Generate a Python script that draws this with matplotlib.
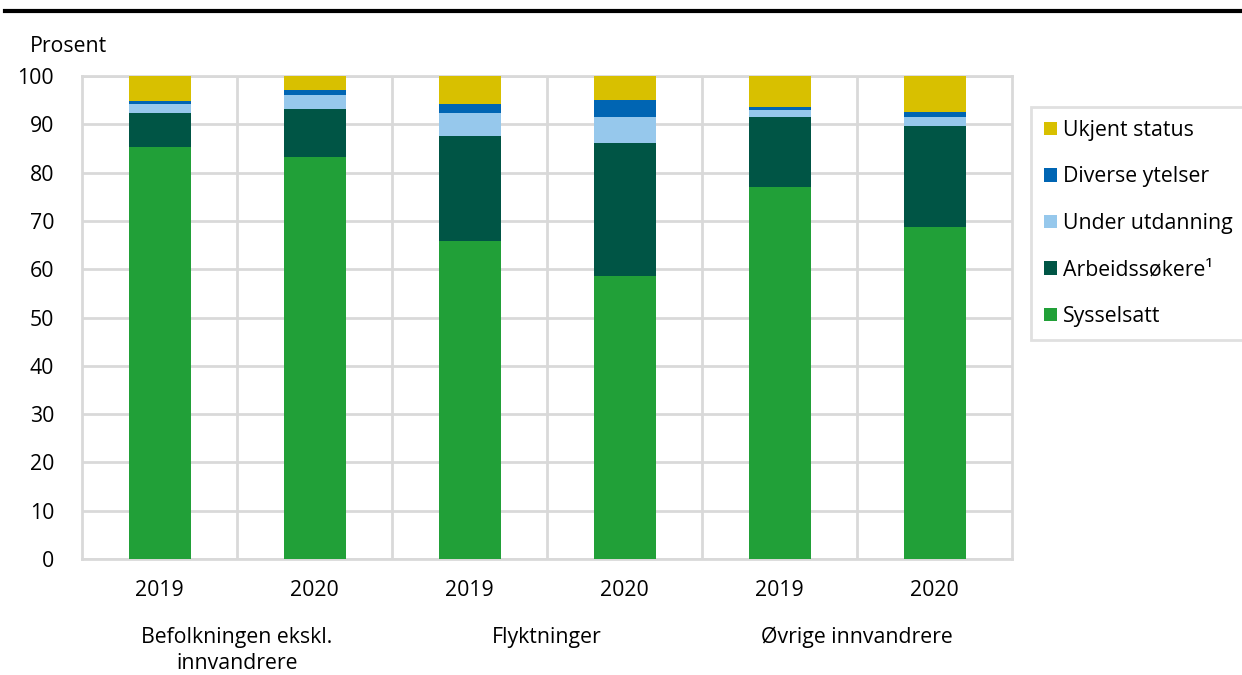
import matplotlib
matplotlib.use("Agg")
import matplotlib.pyplot as plt
from matplotlib.patches import Patch
import numpy as np

plt.rcParams['font.family'] = ['Open Sans', 'DejaVu Sans']

years = ["2019", "2020", "2019", "2020", "2019", "2020"]
groups = ["Befolkningen ekskl.\ninnvandrere", "Flyktninger", "Øvrige innvandrere"]

sysselsatt = [85.3, 83.2, 65.8, 58.6, 77.1, 68.7]
arbeidssokere = [7.0, 9.9, 21.8, 27.5, 14.4, 20.9]
under_utdanning = [2.0, 2.9, 4.7, 5.5, 1.5, 2.0]
diverse_ytelser = [0.6, 1.0, 1.8, 3.5, 0.6, 1.0]
ukjent_status = [5.1, 3.0, 5.9, 4.9, 6.4, 7.4]

series = [
    ("Sysselsatt", sysselsatt, "#21A038"),
    ("Arbeidssøkere¹", arbeidssokere, "#005545"),
    ("Under utdanning", under_utdanning, "#96C8EC"),
    ("Diverse ytelser", diverse_ytelser, "#0065B3"),
    ("Ukjent status", ukjent_status, "#D8C000"),
]

FS = 15.3

fig = plt.figure(figsize=(12.42, 6.75), dpi=100)
ax = fig.add_axes([82/1242, 1-559/675, (1012-82)/1242, (559-76)/675])

x = np.arange(len(years))
bottom = np.zeros(len(years))
for name, vals, col in series:
    ax.bar(x, vals, bottom=bottom, width=0.4, color=col, zorder=3, label=name)
    bottom += np.array(vals)

ax.set_xlim(-0.5, len(years) - 0.5)
ax.set_ylim(0, 100)
ax.set_yticks(range(0, 101, 10))
ax.tick_params(axis='y', length=0, labelsize=FS, pad=20)
ax.set_xticks(x)
ax.set_xticklabels(years)
ax.tick_params(axis='x', length=0, labelsize=FS, pad=15)

grid_col = "#d9d9d9"
ax.grid(axis='y', color=grid_col, linewidth=2, zorder=0)
for b in np.arange(0.5, len(years) - 0.5, 1.0):
    ax.axvline(b, color=grid_col, linewidth=2, zorder=0)
for s in ax.spines.values():
    s.set_color(grid_col)
    s.set_linewidth(2)

# group labels
for i, g in enumerate(groups):
    ax.text(2*i + 0.5, -0.14, g, transform=ax.get_xaxis_transform(),
            ha='center', va='top', fontsize=FS, linespacing=1.35)

fig.text(30/1242, 1-46/675, "Prosent", ha='left', va='center', fontsize=FS)

# top rule
fig.add_artist(plt.Line2D([5/1242, 1.0], [1-11/675, 1-11/675],
                          color='black', linewidth=3, transform=fig.transFigure))

handles = [Patch(facecolor=c, label=n) for n, v, c in series][::-1]
leg = fig.legend(handles=handles, loc='upper left',
                 bbox_to_anchor=(1031/1242, 1-107/675), fontsize=FS,
                 frameon=True, fancybox=False, edgecolor=grid_col,
                 handlelength=0.6, handleheight=0.6, handletextpad=0.3,
                 labelspacing=1.2, borderpad=0.6, borderaxespad=0)
leg.get_frame().set_linewidth(2)

fig.savefig("out.png", dpi=100)
